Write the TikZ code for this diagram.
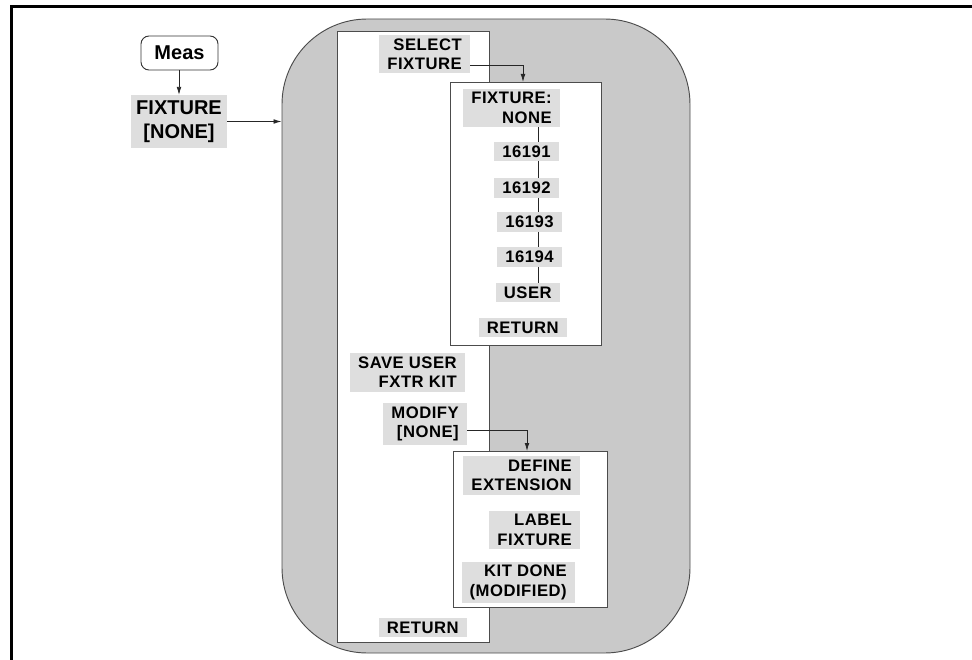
\documentclass[tikz,border=0pt]{standalone}
\usepackage{fontspec}
\setmainfont{Liberation Sans}
\newfontfamily\menufont[LetterSpace=3]{Liberation Sans}
\usetikzlibrary{arrows.meta,calc}
\definecolor{regiongray}{gray}{0.79}
\definecolor{labelgray}{gray}{0.87}
\definecolor{edgegray}{gray}{0.3}
\begin{document}
\begin{tikzpicture}[x=0.75pt,y=-0.75pt,
  lbl/.style={fill=labelgray, inner xsep=6pt, inner ysep=2.8pt, align=right, anchor=east,
    font=\menufont\bfseries\fontsize{12.5}{14.5}\selectfont},
  biglbl/.style={fill=labelgray, inner xsep=4pt, inner ysep=4pt, align=center,
    font=\bfseries\fontsize{15}{18}\selectfont},
  menubox/.style={draw=edgegray, fill=white, line width=0.8pt, anchor=north west, inner sep=0pt},
  conn/.style={draw=black!85, line width=0.6pt},
  arr/.style={conn, -{Latex[length=6pt,width=3.5pt]}}
]
\useasboundingbox (0,0) rectangle (972,660);
% frame
\draw[line width=2.25pt] (11.5,660) -- (11.5,6.5) -- (972,6.5);
% shaded region
\node[draw=edgegray, fill=regiongray, line width=0.7pt, rounded corners=64pt,
  minimum width=306pt, minimum height=475.5pt, inner sep=0pt] (region) at (486,336) {};
% boxes
\node[menubox, minimum width=114pt, minimum height=458.25pt] (mainbox) at (337,31) {};
\node[menubox, minimum width=113.25pt, minimum height=197.25pt] (fixbox) at (450,82) {};
\node[menubox, minimum width=115.5pt, minimum height=117pt] (modbox) at (453,451) {};
% left part
\node[draw=black!80, fill=white, line width=0.7pt, rounded corners=6pt,
  minimum width=57.75pt, minimum height=25.5pt, inner sep=0pt,
  font=\bfseries\fontsize{15}{18}\selectfont] (meas) at (179.5,53) {Meas};
\node[biglbl] (fixl) at (179,121.5) {FIXTURE\\{[NONE]}};
% main menu labels
\node[lbl] (selfix) at (470,54) {SELECT\\FIXTURE};
\node[lbl] (save) at (465,372.5) {SAVE USER\\FXTR KIT};
\node[lbl] (modify) at (467,424) {MODIFY\\{[NONE]}};
\node[lbl] (mret) at (467,627.5) {RETURN};
% fixture menu labels
\node[lbl] (fnone) at (560,108) {FIXTURE:\\NONE};
\node[lbl] (n1) at (559,151.5) {16191};
\node[lbl] (n2) at (559,188) {16192};
\node[lbl] (n3) at (562,222) {16193};
\node[lbl] (n4) at (562,257) {16194};
\node[lbl] (user) at (560,292.5) {USER};
\node[lbl] (fret) at (567,327.5) {RETURN};
% modify menu labels
\node[lbl] (define) at (580,475.5) {DEFINE\\EXTENSION};
\node[lbl] (labfix) at (580,530) {LABEL\\FIXTURE};
\node[lbl] (kit) at (575,582.5) {KIT DONE\\(MODIFIED)};
% connectors
\coordinate (colx) at (538,0);
\draw[arr] (meas.south -| fixl.north) -- (fixl.north);
\draw[arr] (fixl.east) -- (fixl.east -| region.west);
\draw[arr] ($(selfix.south east)+(0,-8)$) -| ($(fixbox.north west)+(73,0)$);
\draw[arr] ($(modify.south east)+(0,-15)$) -| ($(modbox.north west)+(74,0)$);
\draw[conn] (fnone.south -| colx) -- (n1.north -| colx);
\draw[conn] (n1.south -| colx) -- (n2.north -| colx);
\draw[conn] (n2.south -| colx) -- (n3.north -| colx);
\draw[conn] (n3.south -| colx) -- (n4.north -| colx);
\draw[conn] (n4.south -| colx) -- (user.north -| colx);
\end{tikzpicture}
\end{document}
